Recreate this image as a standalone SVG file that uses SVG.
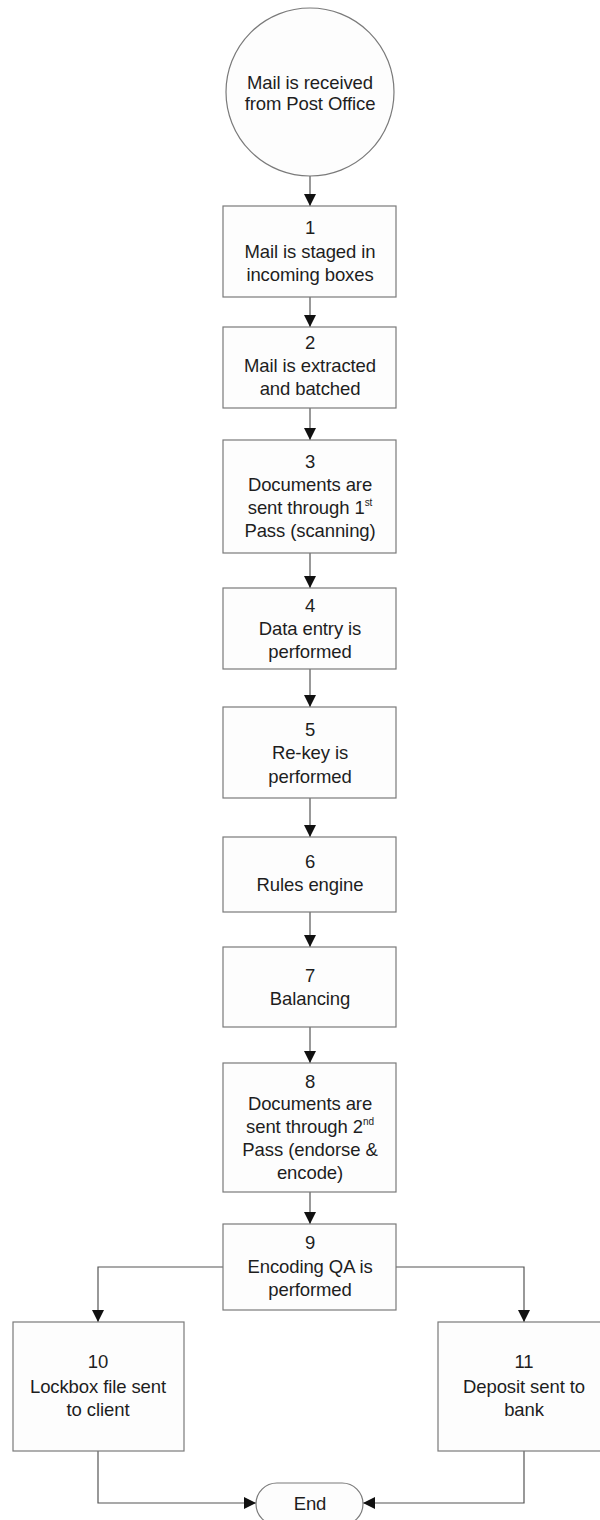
<svg xmlns="http://www.w3.org/2000/svg" width="600" height="1520" viewBox="0 0 600 1520">
  <defs>
    <marker id="arrow" viewBox="0 0 12 12" refX="12" refY="6" markerWidth="12" markerHeight="12" markerUnits="userSpaceOnUse" orient="auto">
      <path d="M0,0 L12,6 L0,12 Z" fill="#111"/>
    </marker>
  </defs>
  <style>
    .shape { fill: #fdfdfd; stroke: #7a7a7a; stroke-width: 1.2; }
    .label { font-family: "Liberation Sans", Arial, sans-serif; font-size: 18.5px; fill: #1e1e1e; text-anchor: middle; letter-spacing: -0.1px; }
    .sup { font-size: 10px; }
    .edge { fill: none; stroke: #555; stroke-width: 1.2; marker-end: url(#arrow); }
  </style>
  <rect width="600" height="1520" fill="#ffffff"/>

  <!-- connectors -->
  <g id="connectors">
    <path class="edge" d="M310,176 L310,206"/>
    <path class="edge" d="M310,297 L310,327"/>
    <path class="edge" d="M310,408 L310,440"/>
    <path class="edge" d="M310,553 L310,588"/>
    <path class="edge" d="M310,669 L310,707"/>
    <path class="edge" d="M310,798 L310,837"/>
    <path class="edge" d="M310,912 L310,947"/>
    <path class="edge" d="M310,1027 L310,1063"/>
    <path class="edge" d="M310,1192 L310,1224"/>
    <path class="edge" d="M223,1267 L98,1267 L98,1322"/>
    <path class="edge" d="M396,1267 L524,1267 L524,1322"/>
    <path class="edge" d="M98,1451 L98,1503 L256,1503"/>
    <path class="edge" d="M524,1451 L524,1503 L363,1503"/>
  </g>

  <!-- start -->
  <g id="start">
    <circle class="shape" cx="310" cy="92" r="84"/>
    <text class="label" x="310" y="89">Mail is received</text>
    <text class="label" x="310" y="110">from Post Office</text>
  </g>

  <g id="step1">
    <rect class="shape" x="223" y="206" width="173" height="91"/>
    <text class="label" x="310" y="234">1</text>
    <text class="label" x="310" y="258">Mail is staged in</text>
    <text class="label" x="310" y="281">incoming boxes</text>
  </g>

  <g id="step2">
    <rect class="shape" x="223" y="327" width="173" height="81"/>
    <text class="label" x="310" y="349">2</text>
    <text class="label" x="310" y="372">Mail is extracted</text>
    <text class="label" x="310" y="395">and batched</text>
  </g>

  <g id="step3">
    <rect class="shape" x="223" y="440" width="173" height="113"/>
    <text class="label" x="310" y="468">3</text>
    <text class="label" x="310" y="491">Documents are</text>
    <text class="label" x="310" y="514">sent through 1<tspan class="sup" dy="-8">st</tspan></text>
    <text class="label" x="310" y="537">Pass (scanning)</text>
  </g>

  <g id="step4">
    <rect class="shape" x="223" y="588" width="173" height="81"/>
    <text class="label" x="310" y="612">4</text>
    <text class="label" x="310" y="635">Data entry is</text>
    <text class="label" x="310" y="658">performed</text>
  </g>

  <g id="step5">
    <rect class="shape" x="223" y="707" width="173" height="91"/>
    <text class="label" x="310" y="736">5</text>
    <text class="label" x="310" y="759">Re-key is</text>
    <text class="label" x="310" y="783">performed</text>
  </g>

  <g id="step6">
    <rect class="shape" x="223" y="837" width="173" height="75"/>
    <text class="label" x="310" y="868">6</text>
    <text class="label" x="310" y="891">Rules engine</text>
  </g>

  <g id="step7">
    <rect class="shape" x="223" y="947" width="173" height="80"/>
    <text class="label" x="310" y="982">7</text>
    <text class="label" x="310" y="1005">Balancing</text>
  </g>

  <g id="step8">
    <rect class="shape" x="223" y="1063" width="173" height="129"/>
    <text class="label" x="310" y="1088">8</text>
    <text class="label" x="310" y="1110">Documents are</text>
    <text class="label" x="310" y="1133">sent through 2<tspan class="sup" dy="-8">nd</tspan></text>
    <text class="label" x="310" y="1156">Pass (endorse &amp;</text>
    <text class="label" x="310" y="1179">encode)</text>
  </g>

  <g id="step9">
    <rect class="shape" x="223" y="1224" width="173" height="86"/>
    <text class="label" x="310" y="1249">9</text>
    <text class="label" x="310" y="1273">Encoding QA is</text>
    <text class="label" x="310" y="1296">performed</text>
  </g>

  <g id="step10">
    <rect class="shape" x="13" y="1322" width="171" height="129"/>
    <text class="label" x="98" y="1368">10</text>
    <text class="label" x="98" y="1393">Lockbox file sent</text>
    <text class="label" x="98" y="1416">to client</text>
  </g>

  <g id="step11">
    <rect class="shape" x="438" y="1322" width="172" height="129"/>
    <text class="label" x="524" y="1368">11</text>
    <text class="label" x="524" y="1393">Deposit sent to</text>
    <text class="label" x="524" y="1416">bank</text>
  </g>

  <g id="end">
    <rect class="shape" x="256" y="1483" width="107" height="42" rx="21" ry="21"/>
    <text class="label" x="310" y="1510">End</text>
  </g>
</svg>
